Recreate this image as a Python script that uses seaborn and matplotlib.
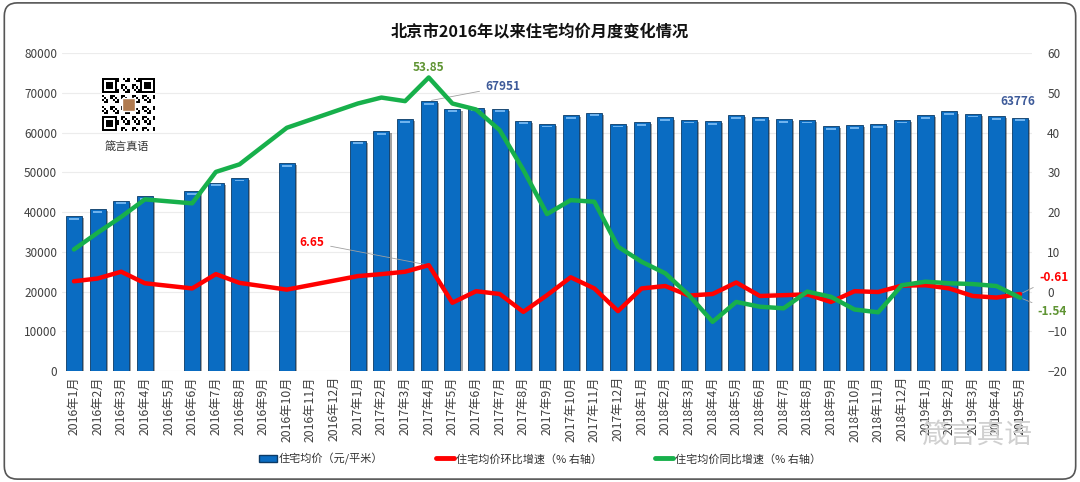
import seaborn as sns
import matplotlib.pyplot as plt
import matplotlib.patheffects as pe
from matplotlib.patches import FancyBboxPatch, Rectangle
from matplotlib.lines import Line2D
from matplotlib.patches import Patch
import numpy as np
import pandas as pd

# ---- data ----
months = ([f"2016年{m}月" for m in range(1, 13)] +
          [f"2017年{m}月" for m in range(1, 13)] +
          [f"2018年{m}月" for m in range(1, 13)] +
          [f"2019年{m}月" for m in range(1, 6)])

price = [39000, 40700, 42900, 44000, np.nan, 45200, 47400, 48600, np.nan, 52300, np.nan, np.nan,
         58000, 60400, 63400, 67951, 66000, 66200, 66000, 63000, 62200, 64400, 65000, 62200,
         62600, 63800, 63200, 62800, 64400, 63800, 63400, 63200, 61600, 61900, 62100, 63200,
         64400, 65300, 64700, 64100, 63776]

mom = [2.6, 3.3, 5.0, 2.1, np.nan, 0.8, 4.4, 2.2, np.nan, 0.5, np.nan, np.nan,
       3.9, 4.4, 5.0, 6.65, -2.8, 0.1, -0.6, -5.1, -0.9, 3.6, 0.8, -4.9,
       0.8, 1.4, -1.0, -0.6, 2.3, -1.1, -0.9, -0.7, -2.6, 0.1, -0.1, 1.5,
       1.6, 0.8, -1.1, -1.5, -0.61]

yoy = [10.6, 14.8, 18.8, 23.2, np.nan, 22.2, 30.1, 32.0, np.nan, 41.2, np.nan, np.nan,
       47.3, 48.8, 47.9, 53.85, 47.3, 45.8, 40.6, 30.6, 19.5, 23.0, 22.6, 11.3,
       7.5, 4.6, -0.9, -7.6, -2.6, -3.8, -4.2, 0.0, -1.3, -4.5, -5.2, 1.6,
       2.5, 2.1, 1.9, 1.4, -1.54]

title = "北京市2016年以来住宅均价月度变化情况"
legend_labels = ["住宅均价（元/平米）", "住宅均价环比增速（% 右轴）", "住宅均价同比增速（% 右轴）"]

bar_color = "#0a6cc2"
red = "#ff0000"
green = "#17b04b"

sns.set_style("white")
plt.rcParams['font.family'] = ['Noto Sans CJK SC', 'DejaVu Sans']

fig = plt.figure(figsize=(10.8, 4.82), dpi=100)
ax = fig.add_axes([0.0575, 0.230, 0.898, 0.660])

df = pd.DataFrame({"month": months, "price": price})
sns.barplot(data=df, x="month", y="price", order=months, color=bar_color,
            width=0.68, saturation=1, edgecolor="#0b3a66", linewidth=0.6, ax=ax, zorder=2)
for p in list(ax.patches):
    p.set_path_effects([pe.SimplePatchShadow(offset=(1.5, -1.5), shadow_rgbFace="#333333", alpha=0.45),
                        pe.Normal()])
    h = p.get_height()
    if np.isfinite(h) and h > 0:
        # light cap at the top of each bar
        ax.add_patch(Rectangle((p.get_x() + p.get_width() * 0.2, h - 900), p.get_width() * 0.6, 450,
                               facecolor="#6fb3ee", edgecolor="none", zorder=3))

ax.set_ylim(0, 80000)
ax.set_yticks(range(0, 80001, 10000))
ax.set_xlim(-0.5, len(months) - 0.5)
ax.yaxis.grid(True, color="#ececec", linewidth=0.8, zorder=0)
ax.set_axisbelow(True)
ax.set_xlabel("")
ax.set_ylabel("")
ax.tick_params(axis="y", labelsize=8.5, colors="#404040", length=0)
ax.tick_params(axis="x", labelsize=8.8, colors="#404040", length=0, rotation=90)
for s in ax.spines.values():
    s.set_visible(False)

ax2 = ax.twinx()
idx = np.arange(len(months))
mom_arr = np.array(mom)
yoy_arr = np.array(yoy)
ok_m = ~np.isnan(mom_arr)
ok_y = ~np.isnan(yoy_arr)
sns.lineplot(x=idx[ok_m], y=mom_arr[ok_m], color=red, linewidth=3.2, ax=ax2, zorder=4)
sns.lineplot(x=idx[ok_y], y=yoy_arr[ok_y], color=green, linewidth=3.2, ax=ax2, zorder=4)
ax2.set_ylim(-20, 60)
ax2.set_yticks(range(-20, 61, 10))
ax2.tick_params(axis="y", labelsize=8.5, colors="#404040", length=0, pad=11)
for s in ax2.spines.values():
    s.set_visible(False)
ax2.set_xlim(-0.5, len(months) - 0.5)

# ---- annotations ----
lead = dict(arrowstyle="-", color="#a0a0a0", lw=0.6)
ax.annotate("67951", xy=(15, price[15]), xytext=(17.4, 71500), color="#3d5a99",
            fontsize=8.5, fontweight="bold", ha="left", va="center", arrowprops=lead)
ax.annotate("63776", xy=(40, price[40]), xytext=(39.9, 67700), color="#3d5a99",
            fontsize=8.5, fontweight="bold", ha="center", va="center")
ax2.annotate("53.85", xy=(15, yoy[15]), xytext=(15, 56.3), color="#5f9433",
             fontsize=8.5, fontweight="bold", ha="center", va="center")
ax2.annotate("6.65", xy=(15, mom[15]), xytext=(10.6, 12.3), color=red,
             fontsize=8.5, fontweight="bold", ha="right", va="center", arrowprops=lead)
ax2.annotate("-0.61", xy=(40, mom[40]), xytext=(40.8, 3.6), color=red,
             fontsize=8.5, fontweight="bold", ha="left", va="center",
             arrowprops=lead, annotation_clip=False)
ax2.annotate("-1.54", xy=(40, yoy[40]), xytext=(40.75, -4.9), color="#5f9433",
             fontsize=8.5, fontweight="bold", ha="left", va="center",
             arrowprops=lead, annotation_clip=False)

fig.text(0.5, 0.935, title, ha="center", va="center", fontsize=11.7, fontweight="bold", color="#111111")

# QR-like badge with caption (decorative)
qax = fig.add_axes([102 / 1080, 1 - 134 / 482, 53 / 1080, 59 / 482])
qax.set_xlim(0, 25)
qax.set_ylim(0, 25)
qax.axis("off")
ii, jj = np.indices((25, 25))
cells = ((ii * 7 + jj * 3 + ii * jj) % 5 < 2)
qax.imshow(cells, cmap="Greys", extent=(0, 25, 0, 25), interpolation="nearest")
for (cx, cy) in [(0, 18), (18, 18), (0, 0)]:
    qax.add_patch(Rectangle((cx, cy), 7, 7, facecolor="black", edgecolor="none"))
    qax.add_patch(Rectangle((cx + 1, cy + 1), 5, 5, facecolor="white", edgecolor="none"))
    qax.add_patch(Rectangle((cx + 2, cy + 2), 3, 3, facecolor="black", edgecolor="none"))
qax.add_patch(Rectangle((9.5, 9.5), 6, 6, facecolor="#b07a4f", edgecolor="white", linewidth=1))
fig.text(0.117, 0.695, "箴言真语", ha="center", va="center", fontsize=8, color="#333333")

# bottom-right watermark
fig.text(0.904, 0.098, "箴言真语", ha="center", va="center", fontsize=20, color="#d0d0d0")

# legend
handles = [Patch(facecolor=bar_color, edgecolor="#0b3a66"),
           Line2D([], [], color=red, linewidth=3.5),
           Line2D([], [], color=green, linewidth=3.5)]
fig.legend(handles, legend_labels, loc="center", bbox_to_anchor=(0.5, 0.048), ncol=3,
           frameon=False, fontsize=8, columnspacing=4.8, handlelength=1.6, handletextpad=0.15,
           labelcolor="#333333")

# rounded frame around the whole chart
frame = FancyBboxPatch((0.004, 0.006), 0.992, 0.988, boxstyle="round,pad=0,rounding_size=0.012",
                       transform=fig.transFigure, facecolor="none", edgecolor="#555555",
                       linewidth=1.2, mutation_aspect=1080 / 482)
fig.patches.append(frame)

fig.savefig("out.png", dpi=100)
